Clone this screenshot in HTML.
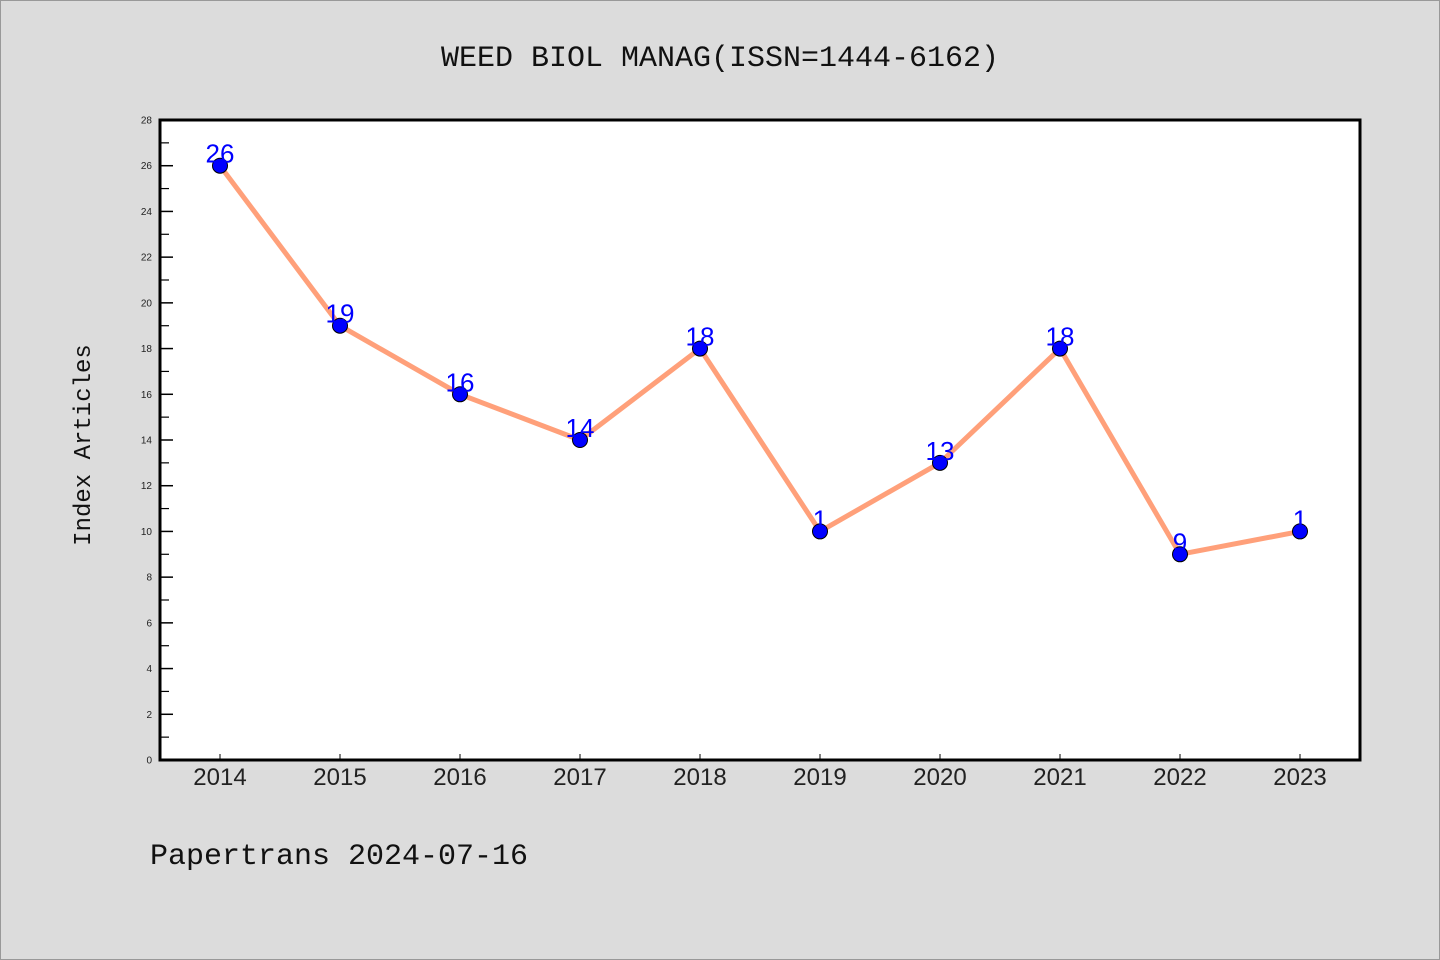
<!DOCTYPE html>
<html><head><meta charset="utf-8"><style>
body{margin:0;background:#dcdcdc;}
svg{display:block;font-family:"Liberation Mono","DejaVu Sans Mono",monospace;}
</style></head><body>
<svg width="1440" height="960" viewBox="0 0 1440 960" xmlns="http://www.w3.org/2000/svg">
<rect x="0.5" y="0.5" width="1439" height="959" fill="#dcdcdc" stroke="#999"/>
<text x="720" y="66" text-anchor="middle" font-size="30" fill="#111">WEED BIOL MANAG(ISSN=1444-6162)</text>
<rect x="160" y="120" width="1200" height="640" fill="#fff" stroke="#000" stroke-width="3"/>
<g id="yaxis"></g>
<g id="xaxis"></g>
<g id="series"></g>
<text transform="translate(90,445) rotate(-90)" text-anchor="middle" font-size="24" fill="#111">Index Articles</text>
<text x="150" y="864" font-size="30" fill="#111">Papertrans 2024-07-16</text>
</svg>
<script>
const categories=["2014","2015","2016","2017","2018","2019","2020","2021","2022","2023"];
const values=[26,19,16,14,18,10,13,18,9,10];
const pointLabels=["26","19","16","14","18","1","13","18","9","1"];
const yTicks=[0,2,4,6,8,10,12,14,16,18,20,22,24,26,28];
const NS="http://www.w3.org/2000/svg";
const x=i=>220+i*120;
const y=v=>760-v*(640/28);
function mk(t,a,p){const e=document.createElementNS(NS,t);for(const k in a)e.setAttribute(k,a[k]);p.appendChild(e);return e;}
const ya=document.getElementById('yaxis'),xa=document.getElementById('xaxis'),s=document.getElementById('series');
yTicks.forEach(v=>{
 const l=mk('line',{x1:160,x2:173,y1:y(v),y2:y(v),stroke:'#000','stroke-width':1.5},ya);
 
 
 const t=mk('text',{x:152,y:y(v)+3.5,'text-anchor':'end','font-size':10,fill:'#222','font-family':'Liberation Sans, sans-serif'},ya);
 t.textContent=v;
 
 
 if(v<28){const m=mk('line',{x1:160,x2:169,y1:y(v+1),y2:y(v+1),stroke:'#000','stroke-width':1.2},ya);
 
 }
});
categories.forEach((c,i)=>{
 const l=mk('line',{x1:x(i),x2:x(i),y1:759,y2:754,stroke:'#000','stroke-width':1},xa);
 
 
 const t=mk('text',{x:x(i),y:785,'text-anchor':'middle','font-size':24,fill:'#222','font-family':'Liberation Sans, sans-serif'},xa);
 t.textContent=c;
 
 
});
const pl=mk('polyline',{points:values.map((v,i)=>x(i)+','+y(v)).join(' '),fill:'none',stroke:'#ffa07a','stroke-width':5,'stroke-linejoin':'round'},s);


values.forEach((v,i)=>{
 const c=mk('circle',{cx:x(i),cy:y(v),r:7.5,fill:'#0000ff',stroke:'#000','stroke-width':1},s);
 
 
 const t=mk('text',{x:x(i),y:y(v)-3,'text-anchor':'middle','font-size':26,fill:'#0000ff','font-family':'Liberation Sans, sans-serif'},s);
 t.textContent=pointLabels[i];
 
 
});
</script>
</body></html>
